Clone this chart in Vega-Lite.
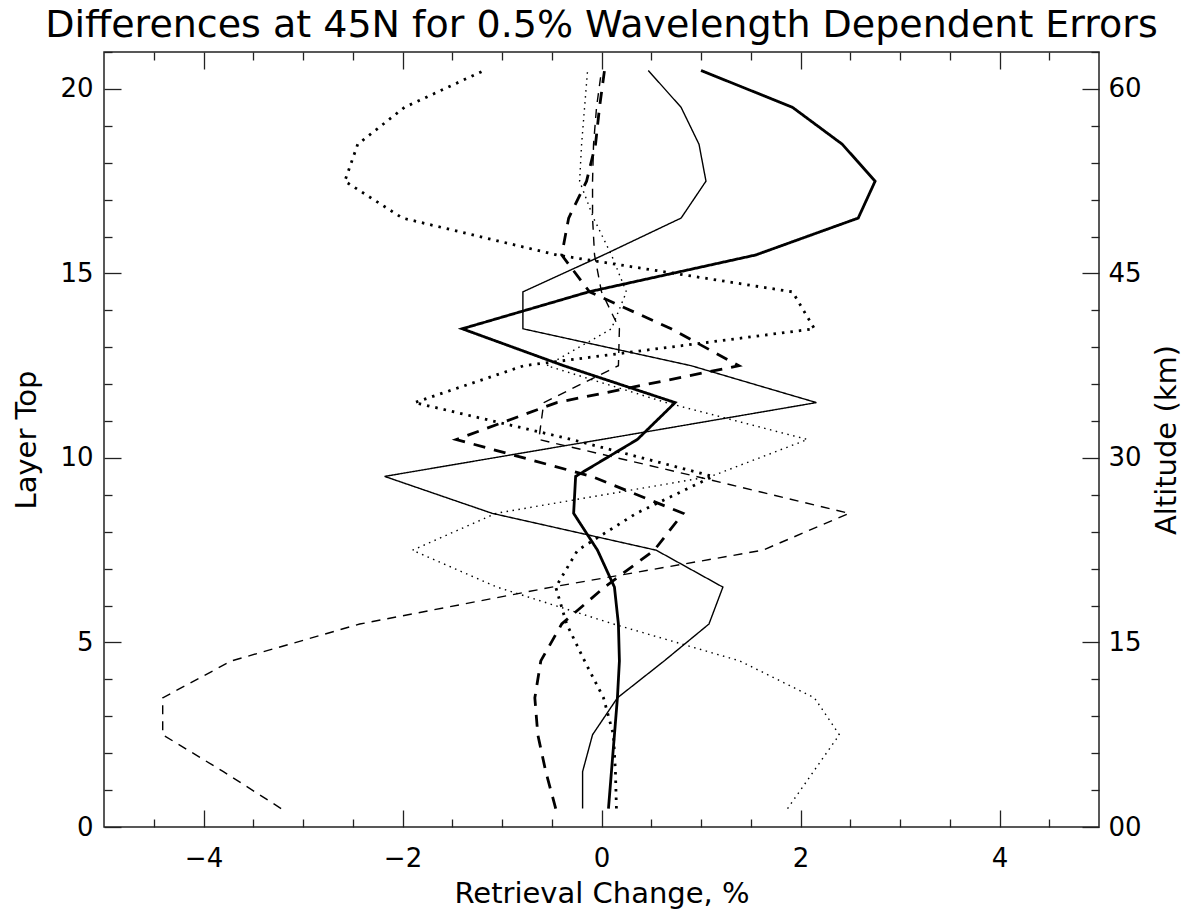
{
  "$schema": "https://vega.github.io/schema/vega-lite/v6.json",
  "width": 995,
  "height": 775,
  "autosize": {"type": "none"},
  "padding": {"left": 104, "top": 52, "right": 92, "bottom": 84},
  "background": "white",
  "title": {"text": "Differences at 45N for 0.5% Wavelength Dependent Errors", "font": "DejaVu Sans", "fontSize": 38, "fontWeight": "normal", "color": "black", "anchor": "middle", "offset": 6},
  "config": {
    "view": {"stroke": "#222", "strokeWidth": 1.5},
    "axis": {"labelFont": "DejaVu Sans", "labelFontSize": 26, "labelColor": "black", "titleFont": "DejaVu Sans", "titleFontSize": 29, "titleFontWeight": "normal", "titleColor": "black", "tickColor": "#222", "tickWidth": 1.3, "grid": false, "domain": false}
  },
  "data": {"values": [
    {"s":"A","y":0.5,"x":0.07},{"s":"A","y":1.5,"x":0.10},{"s":"A","y":2.5,"x":0.13},{"s":"A","y":3.5,"x":0.16},{"s":"A","y":4.5,"x":0.18},{"s":"A","y":5.5,"x":0.17},{"s":"A","y":6.5,"x":0.13},{"s":"A","y":7.5,"x":-0.04},{"s":"A","y":8.5,"x":-0.28},{"s":"A","y":9.5,"x":-0.26},{"s":"A","y":10.5,"x":0.36},{"s":"A","y":11.5,"x":0.74},{"s":"A","y":12.5,"x":-0.38},{"s":"A","y":13.5,"x":-1.40},{"s":"A","y":14.5,"x":-0.13},{"s":"A","y":15.5,"x":1.55},{"s":"A","y":16.5,"x":2.58},{"s":"A","y":17.5,"x":2.75},{"s":"A","y":18.5,"x":2.42},{"s":"A","y":19.5,"x":1.92},{"s":"A","y":20.5,"x":1.00},
    {"s":"B","y":0.5,"x":-0.19},{"s":"B","y":1.5,"x":-0.19},{"s":"B","y":2.5,"x":-0.09},{"s":"B","y":3.5,"x":0.16},{"s":"B","y":4.5,"x":0.63},{"s":"B","y":5.5,"x":1.08},{"s":"B","y":6.5,"x":1.22},{"s":"B","y":7.5,"x":0.55},{"s":"B","y":8.5,"x":-1.10},{"s":"B","y":9.5,"x":-2.18},{"s":"B","y":10.5,"x":0.0},{"s":"B","y":11.5,"x":2.16},{"s":"B","y":12.5,"x":0.90},{"s":"B","y":13.5,"x":-0.79},{"s":"B","y":14.5,"x":-0.79},{"s":"B","y":15.5,"x":0.02},{"s":"B","y":16.5,"x":0.80},{"s":"B","y":17.5,"x":1.05},{"s":"B","y":18.5,"x":0.98},{"s":"B","y":19.5,"x":0.80},{"s":"B","y":20.5,"x":0.47},
    {"s":"C","y":0.5,"x":0.15},{"s":"C","y":1.5,"x":0.14},{"s":"C","y":2.5,"x":0.12},{"s":"C","y":3.5,"x":0.02},{"s":"C","y":4.5,"x":-0.17},{"s":"C","y":5.5,"x":-0.35},{"s":"C","y":6.5,"x":-0.46},{"s":"C","y":7.5,"x":-0.24},{"s":"C","y":8.5,"x":0.35},{"s":"C","y":9.5,"x":1.12},{"s":"C","y":10.5,"x":-0.30},{"s":"C","y":11.5,"x":-1.88},{"s":"C","y":12.5,"x":-0.78},{"s":"C","y":13.5,"x":2.14},{"s":"C","y":14.5,"x":1.92},{"s":"C","y":15.5,"x":-0.45},{"s":"C","y":16.5,"x":-2.0},{"s":"C","y":17.5,"x":-2.58},{"s":"C","y":18.5,"x":-2.45},{"s":"C","y":19.5,"x":-1.98},{"s":"C","y":20.5,"x":-1.18},
    {"s":"D","y":0.5,"x":1.87},{"s":"D","y":1.5,"x":2.13},{"s":"D","y":2.5,"x":2.39},{"s":"D","y":3.5,"x":2.14},{"s":"D","y":4.5,"x":1.39},{"s":"D","y":5.5,"x":0.12},{"s":"D","y":6.5,"x":-1.05},{"s":"D","y":7.5,"x":-1.90},{"s":"D","y":8.5,"x":-1.06},{"s":"D","y":9.5,"x":1.10},{"s":"D","y":10.5,"x":2.07},{"s":"D","y":11.5,"x":0.65},{"s":"D","y":12.5,"x":-0.55},{"s":"D","y":13.5,"x":0.10},{"s":"D","y":14.5,"x":0.25},{"s":"D","y":15.5,"x":0.10},{"s":"D","y":16.5,"x":-0.08},{"s":"D","y":17.5,"x":-0.22},{"s":"D","y":18.5,"x":-0.20},{"s":"D","y":19.5,"x":-0.17},{"s":"D","y":20.5,"x":-0.14},
    {"s":"E","y":0.5,"x":-0.46},{"s":"E","y":1.5,"x":-0.56},{"s":"E","y":2.5,"x":-0.64},{"s":"E","y":3.5,"x":-0.67},{"s":"E","y":4.5,"x":-0.61},{"s":"E","y":5.5,"x":-0.40},{"s":"E","y":6.5,"x":0.03},{"s":"E","y":7.5,"x":0.53},{"s":"E","y":8.5,"x":0.82},{"s":"E","y":9.5,"x":-0.10},{"s":"E","y":10.5,"x":-1.46},{"s":"E","y":11.5,"x":-0.45},{"s":"E","y":12.5,"x":1.38},{"s":"E","y":13.5,"x":0.70},{"s":"E","y":14.5,"x":-0.12},{"s":"E","y":15.5,"x":-0.40},{"s":"E","y":16.5,"x":-0.33},{"s":"E","y":17.5,"x":-0.15},{"s":"E","y":18.5,"x":-0.06},{"s":"E","y":19.5,"x":-0.02},{"s":"E","y":20.5,"x":0.03},
    {"s":"F","y":0.5,"x":-3.22},{"s":"F","y":1.5,"x":-3.80},{"s":"F","y":2.5,"x":-4.41},{"s":"F","y":3.5,"x":-4.41},{"s":"F","y":4.5,"x":-3.72},{"s":"F","y":5.5,"x":-2.43},{"s":"F","y":6.5,"x":-0.50},{"s":"F","y":7.5,"x":1.62},{"s":"F","y":8.5,"x":2.49},{"s":"F","y":9.5,"x":0.95},{"s":"F","y":10.5,"x":-0.63},{"s":"F","y":11.5,"x":-0.58},{"s":"F","y":12.5,"x":0.17},{"s":"F","y":13.5,"x":0.18},{"s":"F","y":14.5,"x":0.0},{"s":"F","y":15.5,"x":-0.07},{"s":"F","y":16.5,"x":-0.09},{"s":"F","y":17.5,"x":-0.09},{"s":"F","y":18.5,"x":-0.08},{"s":"F","y":19.5,"x":-0.05},{"s":"F","y":20.5,"x":0.0}
  ]},
  "layer": [
    {
      "transform": [{"filter": {"field": "s", "oneOf": ["A", "C", "E"]}}],
      "mark": {"type": "line", "color": "black", "strokeWidth": 2.8, "clip": true},
      "encoding": {
        "x": {"field": "x", "type": "quantitative", "scale": {"domain": [-5, 5], "nice": false, "zero": false},
              "axis": {"orient": "bottom", "values": [-4, -2, 0, 2, 4], "ticks": false, "labelPadding": 18, "title": "Retrieval Change, %", "titlePadding": 8}},
        "y": {"field": "y", "type": "quantitative", "scale": {"domain": [0, 21], "nice": false, "zero": false},
              "axis": {"orient": "left", "values": [0, 5, 10, 15, 20], "ticks": false, "labelPadding": 11, "title": "Layer Top", "titlePadding": 18}},
        "strokeDash": {"field": "s", "type": "nominal", "legend": null,
                       "scale": {"domain": ["A", "B", "C", "D", "E", "F"], "range": [[1, 0], [1, 0], [2.5, 6], [1.5, 4.5], [12, 9], [9, 7]]}},
        "order": {"field": "y", "type": "quantitative"}
      }
    },
    {
      "transform": [{"filter": {"field": "s", "oneOf": ["B", "D", "F"]}}],
      "mark": {"type": "line", "color": "black", "strokeWidth": 1.4, "clip": true},
      "encoding": {
        "x": {"field": "x", "type": "quantitative", "axis": {"orient": "top", "values": [-4, -2, 0, 2, 4], "tickSize": 17, "offset": -17, "labels": false, "title": null}},
        "y": {"field": "y", "type": "quantitative",
              "axis": {"orient": "right", "values": [0, 5, 10, 15, 20], "ticks": false, "labelPadding": 9, "labelExpr": "datum.value == 0 ? '00' : format(datum.value * 3, 'd')", "title": "Altitude (km)", "titleAngle": 270, "titlePadding": 40}},
        "strokeDash": {"field": "s", "type": "nominal", "legend": null},
        "order": {"field": "y", "type": "quantitative"}
      }
    },
    {
      "mark": {"type": "point", "opacity": 0},
      "encoding": {
        "x": {"field": "x", "type": "quantitative", "axis": {"orient": "bottom", "values": [-4, -2, 0, 2, 4], "tickSize": 17, "offset": -17, "labels": false, "title": null}},
        "y": {"field": "y", "type": "quantitative", "axis": {"orient": "left", "values": [0, 5, 10, 15, 20], "tickSize": 17, "offset": -17, "labels": false, "title": null}}
      }
    },
    {
      "mark": {"type": "point", "opacity": 0},
      "encoding": {
        "x": {"field": "x", "type": "quantitative", "axis": {"orient": "bottom", "values": [-4.5, -3.5, -3, -2.5, -1.5, -1, -0.5, 0.5, 1, 1.5, 2.5, 3, 3.5, 4.5], "tickSize": 8, "offset": -8, "labels": false, "title": null}},
        "y": {"field": "y", "type": "quantitative", "axis": {"orient": "left", "values": [1, 2, 3, 4, 6, 7, 8, 9, 11, 12, 13, 14, 16, 17, 18, 19, 21], "tickSize": 8, "offset": -8, "labels": false, "title": null}}
      }
    },
    {
      "mark": {"type": "point", "opacity": 0},
      "encoding": {
        "x": {"field": "x", "type": "quantitative", "axis": {"orient": "top", "values": [-4.5, -3.5, -3, -2.5, -1.5, -1, -0.5, 0.5, 1, 1.5, 2.5, 3, 3.5, 4.5], "tickSize": 8, "offset": -8, "labels": false, "title": null}},
        "y": {"field": "y", "type": "quantitative", "axis": {"orient": "right", "values": [0, 5, 10, 15, 20], "tickSize": 17, "offset": -17, "labels": false, "title": null}}
      }
    },
    {
      "mark": {"type": "point", "opacity": 0},
      "encoding": {
        "x": {"field": "x", "type": "quantitative", "axis": null},
        "y": {"field": "y", "type": "quantitative", "axis": {"orient": "right", "values": [1, 2, 3, 4, 6, 7, 8, 9, 11, 12, 13, 14, 16, 17, 18, 19, 21], "tickSize": 8, "offset": -8, "labels": false, "title": null}}
      }
    }
  ],
  "resolve": {"axis": {"x": "independent", "y": "independent"}}
}
